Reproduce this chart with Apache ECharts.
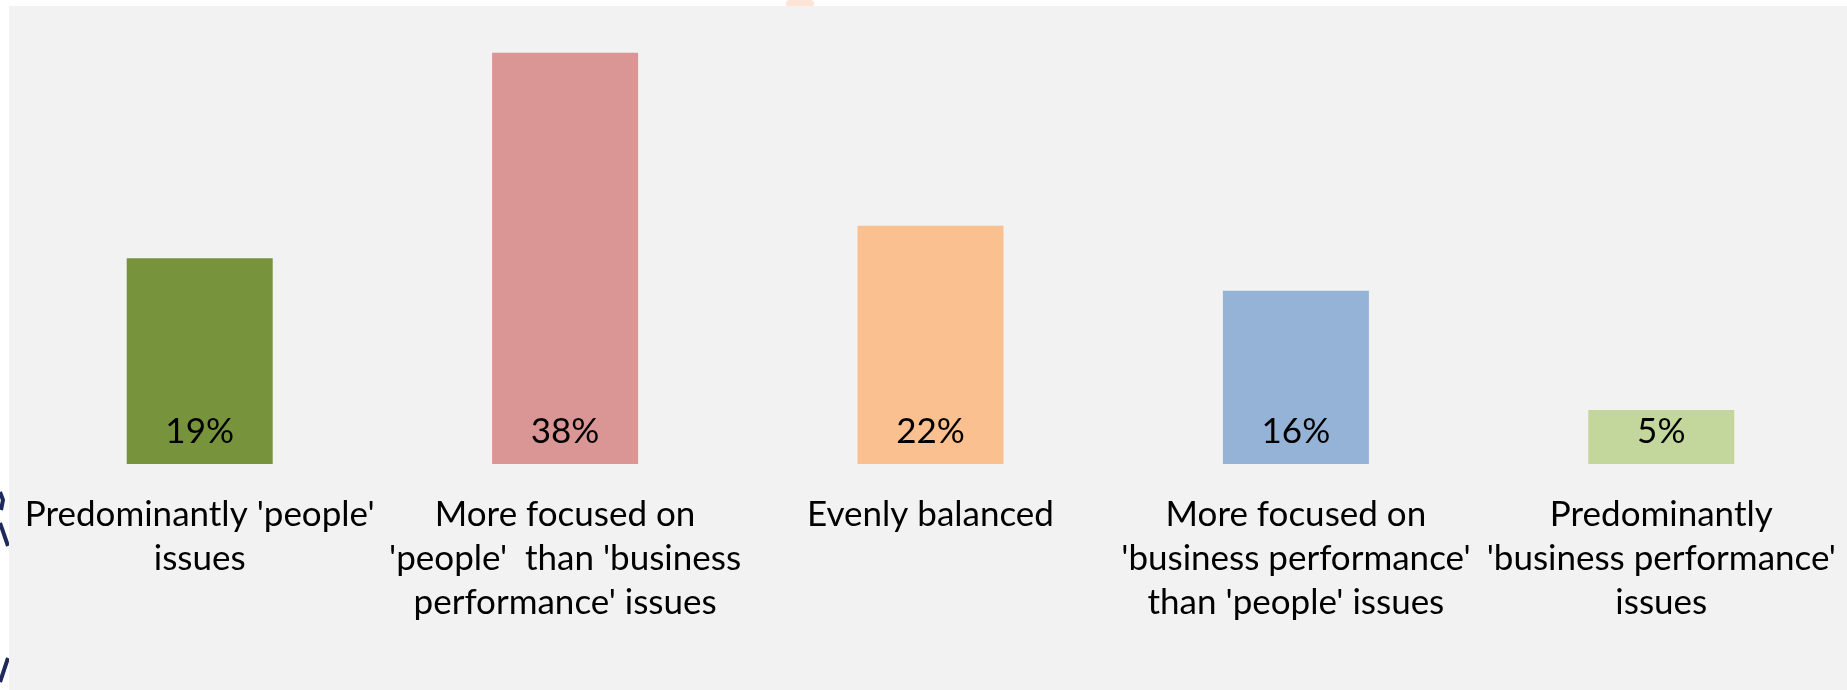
<!DOCTYPE html>
<html>
<head>
<meta charset="utf-8">
<script src="https://cdn.jsdelivr.net/npm/echarts@6/dist/echarts.min.js"></script>
<style>
  html, body { margin: 0; padding: 0; background: #ffffff; }
  #chart { width: 1847px; height: 690px; }
</style>
</head>
<body>
<div id="chart"></div>
<script>
// Focus of board discussion, share of respondents
const categories = [
  "Predominantly 'people'\nissues",
  "More focused on\n'people'  than 'business\nperformance' issues",
  "Evenly balanced",
  "More focused on\n'business performance'\nthan 'people' issues",
  "Predominantly\n'business performance'\nissues"
];
const values = [19, 38, 22, 16, 5];
const barColors = ['#77933C', '#D99694', '#FAC090', '#95B3D7', '#C3D69B'];

const chart = echarts.init(document.getElementById('chart'));

chart.setOption({
  backgroundColor: '#ffffff',
  animation: false,
  graphic: [
    // light grey panel behind the plot
    { type: 'rect', z: -10, shape: { x: 9, y: 6, width: 1838, height: 684 }, style: { fill: '#F2F2F2' } },
    // decorative slide fragments around the panel edge
    { type: 'rect', z: -11, shape: { x: 786, y: 0, width: 28, height: 7, r: 6 }, style: { fill: '#FDE4D7' } },
    { type: 'polyline', z: -11, shape: { points: [[0, 492], [3, 500], [1, 510]] }, style: { stroke: '#1F2A5C', lineWidth: 4, fill: null } },
    { type: 'polyline', z: -11, shape: { points: [[0, 523], [8, 546]] }, style: { stroke: '#1F2A5C', lineWidth: 4, fill: null } },
    { type: 'polyline', z: -11, shape: { points: [[8, 658], [0, 682]] }, style: { stroke: '#1F2A5C', lineWidth: 4, fill: null } }
  ],
  grid: { left: 17, right: 3, top: 31, bottom: 226, containLabel: false },
  xAxis: {
    type: 'category',
    data: categories,
    axisLine: { show: false },
    axisTick: { show: false },
    axisLabel: {
      interval: 0,
      margin: 29,
      color: '#000000',
      fontFamily: 'Lato',
      fontSize: 35,
      lineHeight: 44,
      align: 'center'
    }
  },
  yAxis: {
    type: 'value',
    min: 0,
    max: 40,
    show: false,
    splitLine: { show: false }
  },
  series: [{
    type: 'bar',
    barWidth: 146,
    data: values.map((v, i) => ({ value: v, itemStyle: { color: barColors[i] } })),
    label: {
      show: true,
      position: 'insideBottom',
      distance: 15,
      color: '#000000',
      fontFamily: 'Lato',
      fontSize: 35,
      formatter: p => p.value + '%'
    }
  }]
});
</script>
</body>
</html>
